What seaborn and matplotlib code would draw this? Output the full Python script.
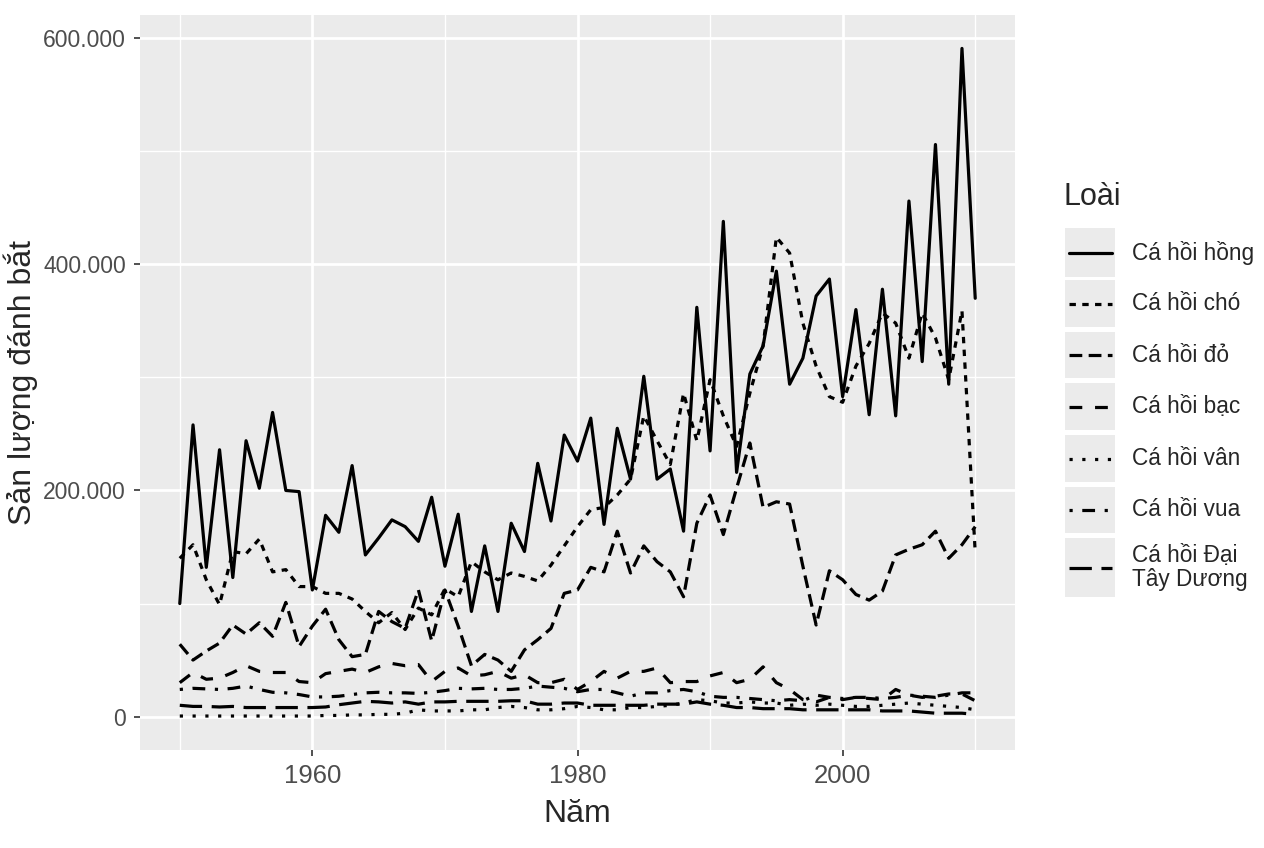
import numpy as np
import pandas as pd
import seaborn as sns
import matplotlib.pyplot as plt
from matplotlib.lines import Line2D
from matplotlib.patches import Rectangle
from matplotlib.ticker import FuncFormatter, MultipleLocator

# san luong danh bat (nghin), 1950 - 2010
years = list(range(1950, 2011))

hong = [100, 258, 132, 236, 123, 244, 202, 269, 200, 199,
        112, 178, 163, 222, 143, 158, 174, 168, 155, 194,
        133, 179, 93, 151, 93, 171, 146, 224, 173, 249,
        226, 264, 170, 255, 210, 301, 210, 219, 164, 362,
        235, 438, 216, 303, 328, 394, 294, 317, 372, 387,
        283, 360, 267, 378, 266, 456, 314, 506, 294, 591,
        370]
cho = [140, 152, 121, 99, 146, 144, 157, 128, 130, 115,
       115, 109, 109, 104, 93, 83, 92, 77, 96, 90,
       113, 106, 137, 128, 121, 127, 124, 120, 134, 151,
       168, 183, 185, 196, 210, 266, 244, 223, 286, 244,
       298, 266, 239, 286, 328, 424, 410, 348, 310, 283,
       278, 310, 330, 357, 348, 317, 357, 335, 298, 359,
       145]
do = [64, 50, 58, 65, 81, 73, 83, 71, 101, 62,
      80, 95, 68, 53, 55, 93, 84, 78, 112, 67,
      112, 80, 45, 55, 50, 40, 59, 68, 78, 109,
      112, 132, 128, 164, 127, 151, 137, 128, 106, 171,
      196, 161, 202, 242, 185, 190, 188, 133, 81, 129,
      121, 108, 103, 111, 143, 148, 152, 164, 140, 152,
      168]
bac = [30, 39, 33, 34, 39, 45, 40, 39, 39, 31,
       30, 38, 40, 42, 39, 44, 47, 45, 46, 31,
       40, 43, 36, 37, 40, 34, 37, 30, 30, 33,
       24, 31, 40, 34, 40, 40, 43, 30, 31, 31,
       36, 39, 30, 33, 44, 30, 24, 15, 13, 17,
       15, 17, 16, 15, 24, 19, 17, 18, 20, 20,
       14]
van = [0.5, 0.5, 0.5, 0.5, 0.5, 0.5, 0.5, 0.5, 0.5, 0.5,
       0.5, 1, 1, 1.5, 1.5, 2, 2, 3, 6, 5,
       5, 5, 6, 6, 8, 9, 8, 6, 6, 7,
       9, 8, 6, 6, 8, 8, 9, 10, 12, 15,
       14, 12, 12, 13, 12, 12, 10, 11, 10, 11,
       10, 9, 9, 10, 11, 12, 11, 10, 9, 8,
       6]
vua = [24, 25, 24.5, 24, 25, 27, 24, 21.5, 21, 19.5,
       17.4, 17.4, 18, 19.5, 21, 21.5, 21, 21, 20.5, 21.5,
       23, 25, 24.5, 25, 24, 24, 25, 27, 26, 25,
       22, 24, 24, 21, 18, 21, 21, 23, 24, 22,
       18, 17, 17, 16, 15, 14, 15, 14, 19, 17,
       16, 17, 17, 16, 17, 19, 18, 17, 19, 21,
       21]
dai_tay_duong = [10, 9, 9, 8.5, 9, 8, 8, 8, 8, 8,
                 8, 8.5, 10.5, 12, 13.5, 13, 12, 13, 11, 13,
                 13, 13.5, 13.5, 13.5, 13.5, 14, 14, 11, 11, 12,
                 12, 10, 10, 10, 10, 10, 11, 11, 11, 13,
                 11, 10, 8, 8, 7, 7, 7, 6, 6, 6,
                 6, 6, 6, 5, 5, 5, 4, 3, 3, 3,
                 2]

loai = ["Cá hồi hồng", "Cá hồi chó", "Cá hồi đỏ", "Cá hồi bạc",
        "Cá hồi vân", "Cá hồi vua", "Cá hồi Đại\nTây Dương"]
series = [hong, cho, do, bac, van, vua, dai_tay_duong]

# kieu net giong ggplot: solid, 22, 42, 44, 13, 1343, 73
net = ["", (2, 2), (4, 2), (4, 4), (1, 3), (1, 3, 4, 3), (7, 3)]
dash_map = dict(zip(loai, net))

df = pd.concat([pd.DataFrame({"nam": years, "san_luong": np.array(s) * 1000, "loai": l})
                for l, s in zip(loai, series)], ignore_index=True)

sns.set_theme(style="darkgrid")
plt.rcParams['font.family'] = ['Liberation Sans', 'DejaVu Sans']

fig = plt.figure(figsize=(12.64, 8.48), dpi=100)
ax = fig.add_axes([140 / 1264, 1 - 750 / 848, (1015 - 140) / 1264, (750 - 15) / 848])

lw = 2.3
sns.lineplot(data=df, x="nam", y="san_luong", style="loai", style_order=loai,
             dashes=dash_map, color="black", linewidth=lw, estimator=None,
             legend=False, ax=ax)

ax.set_facecolor("#EBEBEB")
ymax = df["san_luong"].max()
ax.set_xlim(1947, 2013)
ax.set_ylim(-0.05 * ymax, 1.05 * ymax)
ax.xaxis.set_major_locator(MultipleLocator(20))
ax.xaxis.set_minor_locator(MultipleLocator(10))
ax.yaxis.set_major_locator(MultipleLocator(200000))
ax.yaxis.set_minor_locator(MultipleLocator(100000))
ax.yaxis.set_major_formatter(FuncFormatter(lambda v, p: f"{int(v):,}".replace(",", ".")))
ax.grid(which="major", color="white", linewidth=2.0)
ax.grid(which="minor", color="white", linewidth=1.0)
for s in ax.spines.values():
    s.set_visible(False)
ax.tick_params(which="major", length=4, width=1.2, color="#333333",
               labelcolor="#4D4D4D", pad=6)
ax.tick_params(axis="x", labelsize=18.5)
ax.tick_params(axis="y", labelsize=16.5)
ax.tick_params(which="minor", length=0)
ax.tick_params(axis="x", bottom=True)
ax.tick_params(axis="y", left=True)

ax.set_xlabel("Năm", fontsize=23, labelpad=8)
ax.set_ylabel("Sản lượng đánh bắt", fontsize=23, labelpad=4)

# chu giai ben phai
W, H = 1264, 848
fig.text(1064 / W, 1 - 197 / H, "Loài", fontsize=22, va="center", ha="left")
hop = [(228, 277), (280, 327), (332, 378), (383, 430), (435, 482), (487, 533), (538, 597)]
for (top, bot), l, d in zip(hop, loai, net):
    fig.add_artist(Rectangle((1065 / W, 1 - bot / H), 50 / W, (bot - top) / H,
                             transform=fig.transFigure, facecolor="#EBEBEB",
                             edgecolor="none"))
    yc = 1 - (top + bot) / 2 / H
    ln = Line2D([1069 / W, 1112 / W], [yc, yc], transform=fig.transFigure,
                color="black", linewidth=lw)
    if d:
        ln.set_dashes(d)
    fig.add_artist(ln)
    fig.text(1132 / W, yc, l, fontsize=16.3, va="center", ha="left", linespacing=1.05)

fig.savefig("out.png", dpi=100)
